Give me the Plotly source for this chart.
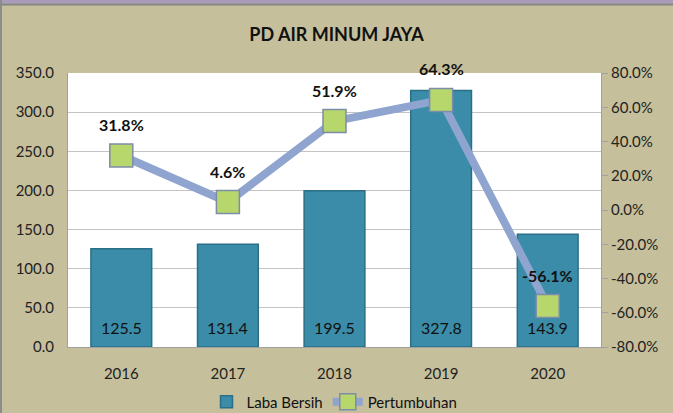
import plotly.graph_objects as go

years = [2016, 2017, 2018, 2019, 2020]
laba_bersih = [125.5, 131.4, 199.5, 327.8, 143.9]
pertumbuhan = [31.8, 4.6, 51.9, 64.3, -56.1]
left_ticks = [0, 50, 100, 150, 200, 250, 300, 350]
right_ticks = [-80, -60, -40, -20, 0, 20, 40, 60, 80]

FONT = "Lato"
bar_color = "#3A8CA8"
line_color = "#8FA5CF"
marker_color = "#B7D66C"

fig = go.Figure()
fig.add_trace(go.Bar(
    x=years, y=laba_bersih, name="Laba Bersih",
    marker=dict(color=bar_color, line=dict(color="#2A6F86", width=1.5)),
    width=0.57, yaxis="y", xaxis="x",
))
fig.add_trace(go.Scatter(
    x=years, y=pertumbuhan, name="Pertumbuhan", yaxis="y2", xaxis="x",
    mode="lines+markers",
    line=dict(color=line_color, width=8),
    marker=dict(symbol="square", size=23, color=marker_color,
                line=dict(color="#7D8CA8", width=1.5)),
))

annotations = []
for x, v in zip(years, laba_bersih):
    annotations.append(dict(x=x, y=0, xref="x", yref="y", text=f"{v:.1f}",
                            showarrow=False, yanchor="middle", yshift=20,
                            font=dict(family=FONT, size=16, color="#111111")))
for x, p in zip(years, pertumbuhan):
    annotations.append(dict(x=x, y=p, xref="x", yref="y2", text=f"<b>{p:.1f}%</b>",
                            showarrow=False, yanchor="middle", yshift=31,
                            font=dict(family=FONT, size=16, color="#111111")))

L, R, T, B = 68, 72, 73, 66
W, H = 673, 413
pw, ph = W - L - R, H - T - B

def to_px(xp):
    return (xp - L) / pw

def to_py(yp):
    return (H - B - yp) / ph

shapes = [
    dict(type="rect", xref="paper", yref="paper", x0=to_px(0), x1=to_px(W), y0=to_py(3.5), y1=to_py(0),
         fillcolor="#A89CBA", line=dict(width=0), layer="above"),
    dict(type="rect", xref="paper", yref="paper", x0=to_px(0), x1=to_px(W), y0=to_py(5.5), y1=to_py(3.5),
         fillcolor="#858585", line=dict(width=0), layer="above"),
    dict(type="rect", xref="paper", yref="paper", x0=to_px(0), x1=to_px(2), y0=to_py(H), y1=to_py(0),
         fillcolor="#8C8C8C", line=dict(width=0), layer="above"),
]

fig.update_layout(
    width=W, height=H,
    margin=dict(l=L, r=R, t=T, b=B, autoexpand=False),
    paper_bgcolor="#C6BF9B",
    plot_bgcolor="#FFFFFF",
    font=dict(family=FONT, size=14, color="#222222"),
    title=dict(text="<b>PD AIR MINUM JAYA</b>", x=0.5, xanchor="center", y=1 - 35 / H, yanchor="middle",
               font=dict(family=FONT, size=18, color="#111111")),
    showlegend=True,
    legend=dict(orientation="h", x=0.5, xanchor="center", yref="container", y=1 - 402 / H,
                yanchor="middle",
                font=dict(family=FONT, size=15, color="#111111"), bgcolor="rgba(0,0,0,0)"),
    xaxis=dict(type="linear", range=[2015.5, 2020.5], tickvals=years,
               ticktext=[str(y) for y in years], automargin=False,
               showgrid=False, showline=True, linecolor="#A0A0A0", linewidth=1,
               ticks="outside", ticklen=13, tickcolor="rgba(0,0,0,0)", tickfont=dict(size=15)),
    yaxis=dict(range=[0, 350], tickvals=left_ticks, tickformat=".1f", automargin=False,
               showgrid=True, gridcolor="#C4C4C4", gridwidth=1,
               showline=True, linecolor="#A0A0A0", linewidth=1,
               ticks="outside", ticklen=10, tickcolor="rgba(0,0,0,0)",
               tickfont=dict(size=15), zeroline=False),
    yaxis2=dict(range=[-80, 80], tickvals=right_ticks,
                ticktext=[f"{v:.1f}%" for v in right_ticks], automargin=False,
                overlaying="y", side="right", anchor="x", showgrid=False, zeroline=False,
                showline=True, linecolor="#A0A0A0", linewidth=1,
                ticks="outside", ticklen=6, tickcolor="#A0A0A0",
                tickfont=dict(size=15)),
    annotations=annotations,
    shapes=shapes,
)

fig.write_html("out.html", config={"displayModeBar": False},
               post_script="document.body.style.margin='0px';document.body.style.overflow='hidden';")
